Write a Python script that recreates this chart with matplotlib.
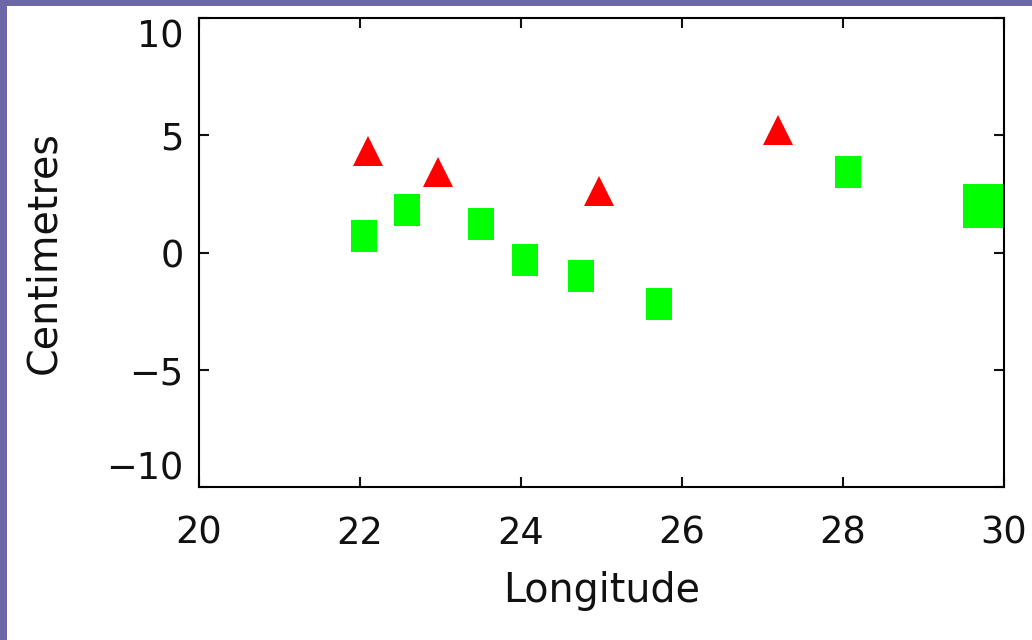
import matplotlib
matplotlib.use("Agg")
import matplotlib.pyplot as plt
from matplotlib.path import Path
from matplotlib.patches import Rectangle

# data
tri_lon = [22.10, 22.97, 24.97, 27.19]
tri_cm = [4.31, 3.43, 2.62, 5.21]

sq_lon = [22.05, 22.58, 23.50, 24.05, 24.75, 25.71, 28.06]
sq_cm = [0.72, 1.80, 1.23, -0.30, -0.99, -2.19, 3.42]

big_lon = [29.75]
big_cm = [2.0]

xticks = [20, 22, 24, 26, 28, 30]
yticks = [-10, -5, 0, 5, 10]
ytick_labels = ['\u221210', '\u22125', '0', '5', '10']

plt.rcParams['font.family'] = ['DejaVu Sans']

fig = plt.figure(figsize=(10.32, 6.4), dpi=100, facecolor='#6c68a8')
# white slide area inside the bluish frame
fig.add_artist(Rectangle((7 / 1032, 0), 1, (640 - 6) / 640,
                         transform=fig.transFigure, facecolor='white',
                         edgecolor='none', zorder=-10))

ax = fig.add_axes([199 / 1032, 1 - 487 / 640, (1004 - 199) / 1032, (487 - 18) / 640])
ax.set_facecolor('white')

# slightly tall rectangles used as square markers
rect = Path([(-13, -16), (13, -16), (13, 16), (-13, 16), (-13, -16)], closed=True)
big_rect = Path([(-20.5, -21.5), (20.5, -21.5), (20.5, 21.5), (-20.5, 21.5), (-20.5, -21.5)], closed=True)

ax.plot(sq_lon, sq_cm, linestyle='none', marker=rect, markersize=23,
        color='#00ff00', markeredgewidth=0)
ax.plot(big_lon, big_cm, linestyle='none', marker=big_rect, markersize=31,
        color='#00ff00', markeredgewidth=0)
ax.plot(tri_lon, tri_cm, linestyle='none', marker='^', markersize=22.3,
        color='#ff0000', markeredgewidth=0)

ax.set_xlim(20, 30)
ax.set_ylim(-10, 10)
ax.set_xticks(xticks)
ax.set_yticks(yticks)
ax.set_yticklabels(ytick_labels)

for s in ax.spines.values():
    s.set_linewidth(1.5)
    s.set_color('black')

ax.tick_params(direction='in', length=7.2, width=1.5, top=True, right=True,
               labelsize=26.5, colors='#111111')
ax.tick_params(axis='x', pad=20)
ax.tick_params(axis='y', pad=11)

# end labels kept inside the axis span
ylabs = ax.get_yticklabels()
ylabs[0].set_verticalalignment('bottom')
ylabs[-1].set_verticalalignment('top')

ax.set_xlabel('Longitude', fontsize=28.5, labelpad=14, color='#111111')
ax.set_ylabel('Centimetres', fontsize=28.5, labelpad=30, color='#111111')

fig.savefig('out.png', dpi=100, facecolor=fig.get_facecolor())
